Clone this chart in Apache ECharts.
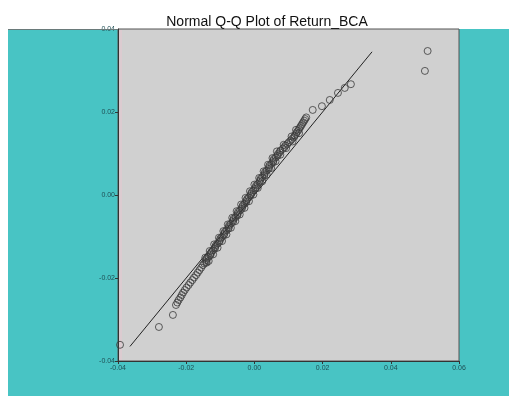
<!DOCTYPE html>
<html>
<head>
<meta charset="utf-8">
<script src="https://cdn.jsdelivr.net/npm/echarts@6/dist/echarts.min.js"></script>
<style>
  html, body { margin: 0; padding: 0; background: #fff; }
  #qq { width: 509px; height: 396px; }
</style>
</head>
<body>
<div id="qq"></div>
<script>
var lowTail = [
    [-0.0394, -0.0361], [-0.0280, -0.0318], [-0.0239, -0.0289],
    [-0.0230, -0.0265], [-0.0226, -0.0259], [-0.0222, -0.0253], [-0.0217, -0.0247],
    [-0.0213, -0.0241], [-0.0209, -0.0235], [-0.0204, -0.0229], [-0.0199, -0.0223],
    [-0.0193, -0.0217], [-0.0188, -0.0211], [-0.0182, -0.0205], [-0.0177, -0.0199],
    [-0.0171, -0.0193], [-0.0166, -0.0187], [-0.0161, -0.0181], [-0.0156, -0.0175],
    [-0.0151, -0.0169]
];
var middle = [
    [-0.0147, -0.0165], [-0.0142, -0.0161], [-0.0141, -0.0157], [-0.0139, -0.0153],
    [-0.0134, -0.0149], [-0.0129, -0.0145], [-0.0128, -0.0141], [-0.0126, -0.0137],
    [-0.0121, -0.0133], [-0.0116, -0.0129], [-0.0115, -0.0125], [-0.0113, -0.0121],
    [-0.0108, -0.0117], [-0.0103, -0.0113], [-0.0101, -0.0109], [-0.0100, -0.0105],
    [-0.0095, -0.0101], [-0.0090, -0.0097], [-0.0088, -0.0093], [-0.0087, -0.0089],
    [-0.0082, -0.0085], [-0.0076, -0.0081], [-0.0075, -0.0077], [-0.0074, -0.0073],
    [-0.0069, -0.0069], [-0.0063, -0.0065], [-0.0062, -0.0061], [-0.0061, -0.0057],
    [-0.0055, -0.0053], [-0.0050, -0.0049], [-0.0049, -0.0045], [-0.0048, -0.0041],
    [-0.0042, -0.0037], [-0.0037, -0.0033], [-0.0036, -0.0029], [-0.0034, -0.0025],
    [-0.0029, -0.0021], [-0.0024, -0.0017], [-0.0023, -0.0013], [-0.0021, -0.0009],
    [-0.0016, -0.0005], [-0.0011, -0.0001], [-0.0010, 0.0003], [-0.0008, 0.0007],
    [-0.0003, 0.0011], [0.0002, 0.0015], [0.0004, 0.0019], [0.0005, 0.0023],
    [0.0010, 0.0027], [0.0015, 0.0031], [0.0017, 0.0035], [0.0018, 0.0039],
    [0.0023, 0.0043], [0.0029, 0.0047], [0.0030, 0.0051], [0.0031, 0.0055],
    [0.0036, 0.0059], [0.0042, 0.0063], [0.0043, 0.0067], [0.0044, 0.0071],
    [0.0050, 0.0075], [0.0055, 0.0079], [0.0056, 0.0083], [0.0057, 0.0087],
    [0.0063, 0.0091], [0.0068, 0.0095], [0.0069, 0.0099], [0.0074, 0.0103],
    [0.0076, 0.0107], [0.0083, 0.0111], [0.0088, 0.0115], [0.0091, 0.0119],
    [0.0097, 0.0123], [0.0101, 0.0127], [0.0106, 0.0131], [0.0110, 0.0135],
    [0.0116, 0.0139], [0.0118, 0.0143], [0.0122, 0.0147], [0.0124, 0.0151],
    [0.0128, 0.0155], [0.0131, 0.0159], [0.0134, 0.0163], [0.0137, 0.0167],
    [0.0140, 0.0171], [0.0143, 0.0175], [0.0146, 0.0179], [0.0149, 0.0183],
    [0.0152, 0.0187]
];
// points on the edges of the thick band
var middleEdge = [
    [-0.0140, -0.0163], [-0.0134, -0.0159], [-0.0144, -0.0151], [-0.0121, -0.0143],
    [-0.0131, -0.0135], [-0.0108, -0.0127], [-0.0118, -0.0119], [-0.0095, -0.0111],
    [-0.0104, -0.0103], [-0.0082, -0.0095], [-0.0091, -0.0087], [-0.0069, -0.0079],
    [-0.0078, -0.0071], [-0.0056, -0.0063], [-0.0065, -0.0055], [-0.0043, -0.0047],
    [-0.0052, -0.0039], [-0.0029, -0.0031], [-0.0039, -0.0023], [-0.0016, -0.0015],
    [-0.0026, -0.0007], [-0.0003, 0.0001], [-0.0013, 0.0009], [0.0010, 0.0017],
    [0.0000, 0.0025], [0.0023, 0.0033], [0.0014, 0.0041], [0.0036, 0.0049],
    [0.0027, 0.0057], [0.0049, 0.0065], [0.0040, 0.0073], [0.0062, 0.0081],
    [0.0053, 0.0089], [0.0076, 0.0097], [0.0066, 0.0105], [0.0093, 0.0113],
    [0.0086, 0.0121], [0.0112, 0.0129], [0.0109, 0.0141], [0.0131, 0.0149],
    [0.0122, 0.0157]
];
var highTail = [
    [0.0171, 0.0205], [0.0198, 0.0214], [0.0221, 0.0229], [0.0245, 0.0246],
    [0.0265, 0.0258], [0.0283, 0.0267], [0.0500, 0.0299], [0.0508, 0.0347]
];
var refLine = [[-0.0365, -0.0365], [0.0345, 0.0345]];
var xTicks = [-0.04, -0.02, 0.00, 0.02, 0.04, 0.06];
var yTicks = [-0.04, -0.02, 0.00, 0.02, 0.04];

var chart = echarts.init(document.getElementById('qq'));
var labelStyle = {
    color: '#1f4f55',
    fontSize: 7,
    fontFamily: 'Liberation Sans, Arial, sans-serif',
    formatter: function (v) { return v.toFixed(2); }
};
var option = {
    animation: false,
    backgroundColor: '#fff',
    graphic: [
        { type: 'rect', z: -10, shape: { x: 8, y: 29, width: 501, height: 367 }, style: { fill: '#48c4c4' } },
        { type: 'line', z: 5, shape: { x1: 8, y1: 29.5, x2: 118, y2: 29.5 }, style: { stroke: '#6a7a7a', lineWidth: 1 } },
        { type: 'rect', z: 1, shape: { x: 119, y: 30, width: 3, height: 330 }, style: { fill: '#dccbd0' } }
    ],
    title: {
        text: 'Normal Q-Q Plot of Return_BCA',
        left: 262,
        top: 10,
        textAlign: 'center',
        textStyle: { fontSize: 14, fontWeight: 'normal', color: '#111', fontFamily: 'Liberation Sans, Arial, sans-serif' }
    },
    grid: {
        left: 118, right: 50, top: 29, bottom: 35,
        show: true,
        backgroundColor: '#d0d0d0',
        borderColor: '#555',
        borderWidth: 1
    },
    xAxis: {
        type: 'value',
        min: xTicks[0],
        max: xTicks[xTicks.length - 1],
        interval: 0.02,
        axisLine: { show: true, onZero: false, lineStyle: { color: '#333' } },
        axisTick: { show: true, length: 3, lineStyle: { color: '#333' } },
        axisLabel: Object.assign({ margin: 4 }, labelStyle),
        splitLine: { show: false }
    },
    yAxis: {
        type: 'value',
        min: yTicks[0],
        max: yTicks[yTicks.length - 1],
        interval: 0.02,
        axisLine: { show: true, onZero: false, lineStyle: { color: '#333' } },
        axisTick: { show: true, length: 3, lineStyle: { color: '#333' } },
        axisLabel: Object.assign({ margin: 3 }, labelStyle),
        splitLine: { show: false }
    },
    series: [
        {
            type: 'line',
            data: refLine,
            symbol: 'none',
            lineStyle: { color: '#222', width: 1 },
            z: 3
        },
        {
            type: 'scatter',
            data: lowTail.concat(middle, middleEdge, highTail),
            symbol: 'circle',
            symbolSize: 7,
            itemStyle: { color: 'rgba(0,0,0,0)', borderColor: '#3a3a3a', borderWidth: 1 },
            z: 4
        }
    ]
};
chart.setOption(option);
</script>
</body>
</html>
